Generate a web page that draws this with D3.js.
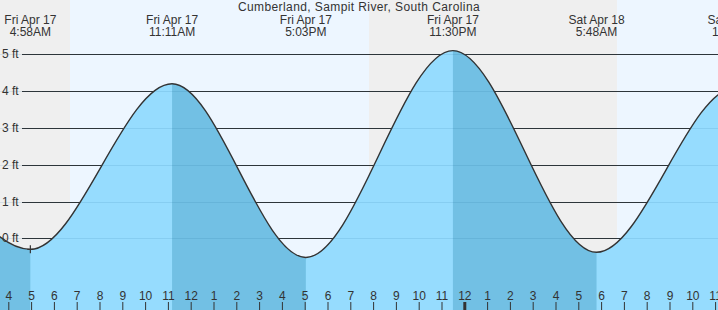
<!DOCTYPE html>
<html><head><meta charset="utf-8">
<script src="https://cdn.jsdelivr.net/npm/d3@7"></script>
<style>body{margin:0;background:#fff}svg{display:block;font-family:"Liberation Sans",Arial,sans-serif}</style>
</head><body><div id="chart"></div>
<script>
// Hours since Fri Apr 17 00:00
const title = "Cumberland, Sampit River, South Carolina";
const extremeTimes   = [-1.33, 4.967, 11.183, 17.05, 23.5, 29.8, 35.9, 42.1];
const extremeHeights = [5.0, -0.3, 4.2, -0.52, 5.1, -0.38, 4.1, -0.3];
const extremeDays    = ["", "Fri Apr 17", "Fri Apr 17", "Fri Apr 17", "Fri Apr 17", "Sat Apr 18", "Sat Apr 18", ""];
const extremeClock   = ["", "4:58AM", "11:11AM", "5:03PM", "11:30PM", "5:48AM", "11:54AM", ""];
const nightSpans     = [[-2, 6.706], [19.82, 30.70]];
const daySpans       = [[6.706, 19.82], [30.70, 40]];
const yTicks         = [0, 1, 2, 3, 4, 5];
const hourTicks      = d3.range(4, 36);
const nowTime = 4.967, nowHeight = -0.3;

const W = 718, H = 310;
const x = d3.scaleLinear().domain([4, 35]).range([8.3, 715.1]);
const y = d3.scaleLinear().domain([0, 5]).range([238.3, 54.3]);

const svg = d3.select("#chart").append("svg").attr("width", W).attr("height", H);

// backgrounds
svg.selectAll("rect.night").data(nightSpans).join("rect")
  .attr("x", d => Math.max(0, x(d[0]))).attr("y", 0)
  .attr("width", d => x(d[1]) - Math.max(0, x(d[0]))).attr("height", H).attr("fill", "#efefef");
svg.selectAll("rect.day").data(daySpans).join("rect")
  .attr("x", d => x(d[0])).attr("y", 0)
  .attr("width", d => x(d[1]) - x(d[0])).attr("height", H).attr("fill", "#edf6ff");

// gridlines
svg.selectAll("line.grid").data(yTicks).join("line")
  .attr("x1", 22).attr("x2", W).attr("y1", d => Math.round(y(d)) + 0.5).attr("y2", d => Math.round(y(d)) + 0.5)
  .attr("stroke", "#333").attr("stroke-width", 1);

const pts = extremeTimes.map((t, i) => ({t, v: extremeHeights[i]}));
const area = d3.area().x(d => x(d.t)).y0(H).y1(d => y(d.v)).curve(d3.curveMonotoneX);
const line = d3.line().x(d => x(d.t)).y(d => y(d.v)).curve(d3.curveMonotoneX);

svg.append("path").attr("d", area(pts)).attr("fill", "#96dcfe");

// darker shading for falling tide
const falling = [];
for (let i = 0; i < pts.length - 1; i++) if (pts[i].v > pts[i + 1].v) falling.push([pts[i].t, pts[i + 1].t]);
const clip = svg.append("clipPath").attr("id", "fall");
clip.selectAll("rect").data(falling).join("rect")
  .attr("x", d => x(d[0])).attr("y", 0).attr("width", d => x(d[1]) - x(d[0])).attr("height", H);
svg.append("path").attr("d", area(pts)).attr("fill", "#72c0e4").attr("clip-path", "url(#fall)");

// faint gridlines over water
svg.selectAll("line.gridw").data(yTicks).join("line")
  .attr("x1", 0).attr("x2", W).attr("y1", d => Math.round(y(d)) + 0.5).attr("y2", d => Math.round(y(d)) + 0.5)
  .attr("stroke", "#004b80").attr("stroke-opacity", 0.1);

svg.append("path").attr("d", line(pts)).attr("fill", "none").attr("stroke", "#333").attr("stroke-width", 1.4);

// now marker
const nx = x(nowTime), ny = y(nowHeight);
svg.append("path").attr("d", `M${nx},${ny - 4}V${ny + 4}M${nx - 3},${ny}H${nx + 3}`)
  .attr("stroke", "#333").attr("stroke-width", 1.2).attr("fill", "none");

// y labels
svg.selectAll("text.yl").data(yTicks).join("text")
  .attr("x", 2).attr("y", d => y(d) + 4).attr("font-size", 12).attr("fill", "#333")
  .text(d => d + " ft");

// bottom axis
const ax = svg.append("g").attr("transform", `translate(0,${H})`)
  .call(d3.axisTop(x).tickValues(hourTicks).tickSize(8).tickPadding(2)
    .tickFormat(h => (h % 12) || 12));
ax.select(".domain").remove();
ax.selectAll(".tick line").attr("stroke", "#333").attr("stroke-width", h => h % 24 === 0 ? 3 : 1);
ax.selectAll(".tick text").attr("fill", "#333").attr("font-size", 12)
  .attr("font-family", "Liberation Sans, Arial, sans-serif");

// extreme labels (two lines in one text element)
const lbl = pts.map((p, i) => ({t: p.t, day: extremeDays[i], clock: extremeClock[i]})).filter(d => d.day);
const tx = svg.selectAll("text.lbl").data(lbl).join("text")
  .attr("class", "lbl").attr("text-anchor", "middle").attr("font-size", 12).attr("fill", "#333")
  .attr("y", 24);
tx.append("tspan").attr("x", d => x(d.t)).attr("y", 24).text(d => d.day);
tx.append("tspan").attr("x", d => x(d.t)).attr("y", 36).text(d => d.clock);

svg.append("text").attr("x", 359).attr("y", 11).attr("text-anchor", "middle")
  .attr("font-size", 12).attr("letter-spacing", 0.4).attr("fill", "#333").text(title);
</script></body></html>
